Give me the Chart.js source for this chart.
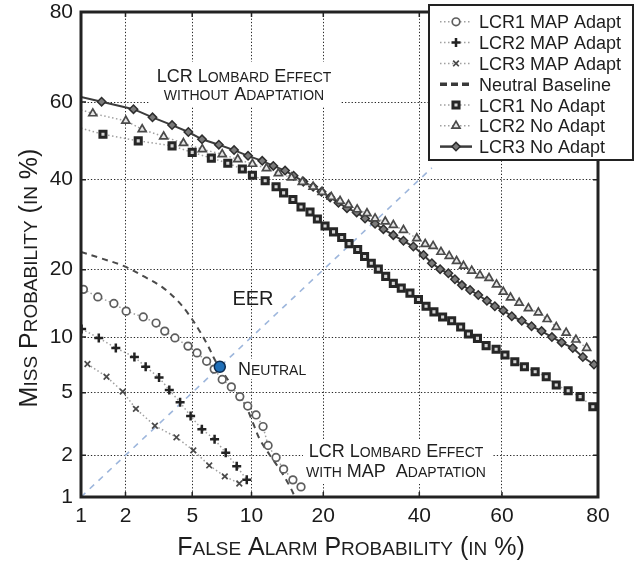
<!DOCTYPE html>
<html>
<head>
<meta charset="utf-8">
<script src="https://cdn.jsdelivr.net/npm/chart.js@4/dist/chart.umd.min.js"></script>
<style>
  html, body { margin: 0; padding: 0; background: #fff; }
</style>
</head>
<body>
<canvas id="det" width="635" height="562"></canvas>
<script>
const FONT = '"Liberation Sans", Arial, sans-serif';

// tick positions (in %)
const xTicks = [1, 2, 5, 10, 20, 40, 60, 80];
const yTicks = [1, 2, 5, 10, 20, 40, 60, 80];

// LCR1 / LCR2 / LCR3 with MAP adaptation
const lcr1MapX = [1.04, 1.31, 1.68, 2.02, 2.59, 3.1, 3.49, 4.0, 4.74, 5.31, 5.98, 6.55, 7.2, 8.0, 8.8, 9.6, 10.5, 11.3, 11.9, 12.9, 13.9, 15.2, 16.4];
const lcr1MapY = [16.6, 15.4, 14.4, 13.3, 12.5, 11.7, 10.7, 9.9, 9.0, 8.3, 7.5, 6.8, 5.95, 5.4, 4.74, 4.16, 3.67, 3.1, 2.33, 1.93, 1.6, 1.34, 1.19];

const lcr2MapX = [1.01, 1.33, 1.73, 2.28, 2.68, 3.23, 3.71, 4.28, 4.9, 5.64, 6.58, 7.5, 8.5, 9.5];
const lcr2MapY = [10.95, 9.9, 8.8, 7.9, 7.0, 6.1, 5.19, 4.38, 3.61, 2.98, 2.56, 2.08, 1.68, 1.34];

const lcr3MapX = [1.11, 1.5, 1.92, 2.33, 3.05, 4.08, 5.07, 6.17, 7.42, 8.75];
const lcr3MapY = [7.25, 6.17, 5.07, 4.0, 3.14, 2.64, 2.16, 1.7, 1.42, 1.26];

// neutral baseline (dashed curve)
const neutralX = [1, 1.36, 1.94, 2.65, 3.36, 4.11, 4.8, 5.45, 6.09, 6.62, 7.27, 8.06, 8.8, 9.5, 10.2, 10.95, 12.1, 13.6, 14.8, 15.5];
const neutralY = [23.4, 22.2, 20.7, 18.7, 17.0, 14.9, 12.8, 10.8, 9.0, 7.6, 6.5, 5.5, 4.8, 4.05, 3.22, 2.54, 2.01, 1.53, 1.19, 1.0];

// LCR1 / LCR2 / LCR3 without adaptation (first point = where the line enters the plot)
const lcr1NoX = [1, 1.42, 2.41, 3.85, 5.0, 6.33, 7.68, 9.05, 10.1, 11.55, 12.9, 13.9, 15.2, 16.4, 17.8, 19.0, 20.3, 21.8, 23.3, 24.7, 26.4, 27.8, 29.2, 30.7, 32.3, 34.0, 35.8, 37.8, 39.8, 41.6, 43.5, 45.6, 47.8, 50.0, 51.9, 54.1, 56.2, 58.6, 60.7, 63.0, 65.2, 67.6, 70.0, 72.1, 74.5, 76.8, 79.1];
const lcr1NoY = [53.3, 51.7, 50.0, 48.7, 47.0, 45.5, 44.2, 42.7, 41.1, 39.7, 38.2, 36.7, 35.1, 33.3, 32.1, 30.5, 28.9, 27.6, 26.4, 25.1, 23.9, 22.5, 21.2, 20.1, 18.8, 17.6, 16.8, 16.0, 15.0, 14.0, 13.2, 12.5, 12.0, 11.2, 10.35, 9.85, 9.05, 8.67, 8.1, 7.45, 7.0, 6.58, 6.17, 5.54, 5.13, 4.74, 4.12];

const lcr2NoX = [1, 1.21, 2.01, 2.55, 3.44, 4.47, 5.67, 7.2, 8.6, 10.1, 11.7, 13.2, 15.0, 16.6, 18.3, 19.8, 21.4, 23.0, 24.6, 26.3, 28.3, 30.0, 32.2, 34.0, 36.3, 39.4, 41.4, 43.3, 45.2, 47.2, 49.0, 50.7, 52.7, 54.7, 56.9, 58.7, 60.3, 62.0, 64.0, 66.1, 68.3, 70.2, 72.1, 74.1, 76.0, 78.0];
const lcr2NoY = [58.0, 57.1, 55.2, 53.0, 51.1, 49.4, 47.8, 46.5, 45.2, 44.0, 42.9, 41.6, 40.5, 39.4, 38.2, 36.9, 35.7, 34.7, 33.8, 32.7, 31.8, 30.6, 29.9, 29.1, 28.0, 26.2, 25.0, 24.6, 23.4, 22.6, 21.6, 20.7, 19.8, 19.0, 18.5, 17.4, 16.2, 15.3, 14.5, 13.7, 13.1, 12.2, 11.2, 10.5, 9.7, 8.8];

const lcr3NoX = [1, 1.39, 2.25, 2.95, 3.85, 4.76, 5.65, 6.92, 8.25, 9.63, 11.2, 12.55, 14.1, 15.3, 16.75, 18.3, 19.7, 21.2, 22.7, 24.3, 26.2, 27.9, 30.0, 31.8, 34.0, 36.3, 38.6, 41.0, 43.0, 45.0, 47.0, 48.6, 50.3, 52.3, 54.3, 56.4, 58.3, 60.3, 62.3, 64.6, 66.8, 69.0, 71.2, 73.2, 75.4, 77.3, 79.3];
const lcr3NoY = [61.3, 60.1, 58.2, 56.1, 54.1, 52.3, 50.4, 49.0, 47.6, 46.1, 44.8, 43.5, 42.3, 41.0, 39.5, 38.2, 37.0, 35.6, 34.3, 33.0, 32.0, 30.6, 29.4, 28.2, 26.9, 25.7, 24.5, 22.8, 21.2, 20.1, 19.35, 18.3, 17.3, 16.5, 15.7, 14.8, 14.0, 13.4, 12.6, 12.0, 11.3, 10.7, 10.0, 9.4, 8.8, 7.9, 7.2];

// equal error rate diagonal and the neutral operating point
const eerX = [1, 43];
const eerY = [1, 43];
const neutralPtX = [7.0];
const neutralPtY = [7.0];

// ---- normal deviate helpers ----
function probit(p) {
  const a = [-39.69683028665376, 220.9460984245205, -275.9285104469687, 138.3577518672690, -30.66479806614716, 2.506628277459239];
  const b = [-54.47609879822406, 161.5858368580409, -155.6989798598866, 66.80131188771972, -13.28068155288572];
  const c = [-0.007784894002430293, -0.3223964580411365, -2.400758277161838, -2.549671010519046, 4.374664141464968, 2.938163982698783];
  const d = [0.007784695709041462, 0.3224671290700398, 2.445134137142996, 3.754408661907416];
  const pl = 0.02425;
  if (p < pl) {
    const q = Math.sqrt(-2 * Math.log(p));
    return (((((c[0] * q + c[1]) * q + c[2]) * q + c[3]) * q + c[4]) * q + c[5]) / ((((d[0] * q + d[1]) * q + d[2]) * q + d[3]) * q + 1);
  }
  if (p > 1 - pl) {
    const q = Math.sqrt(-2 * Math.log(1 - p));
    return -(((((c[0] * q + c[1]) * q + c[2]) * q + c[3]) * q + c[4]) * q + c[5]) / ((((d[0] * q + d[1]) * q + d[2]) * q + d[3]) * q + 1);
  }
  const q = p - 0.5, r = q * q;
  return (((((a[0] * r + a[1]) * r + a[2]) * r + a[3]) * r + a[4]) * r + a[5]) * q / (((((b[0] * r + b[1]) * r + b[2]) * r + b[3]) * r + b[4]) * r + 1);
}
function normCdf(z) {
  let lo = 1e-6, hi = 1 - 1e-6;
  for (let i = 0; i < 60; i++) {
    const mid = (lo + hi) / 2;
    if (probit(mid) < z) lo = mid; else hi = mid;
  }
  return (lo + hi) / 2;
}

// DET (normal deviate) scale, values in %
class ProbitScale extends Chart.Scale {
  determineDataLimits() {
    this.min = this.options.min;
    this.max = this.options.max;
  }
  buildTicks() {
    const vals = this.axis === 'x' ? xTicks : yTicks;
    return vals.map(v => ({ value: v }));
  }
  getLabelForValue(v) { return String(v); }
  configure() {
    super.configure();
    this._zStart = probit(this.min / 100);
    this._zRange = probit(this.max / 100) - this._zStart;
  }
  getPixelForValue(v) {
    return this.getPixelForDecimal((probit(v / 100) - this._zStart) / this._zRange);
  }
  getValueForPixel(px) {
    return 100 * normCdf(this.getDecimalForPixel(px) * this._zRange + this._zStart);
  }
}
ProbitScale.id = 'probit';
ProbitScale.defaults = {};
Chart.register(ProbitScale);

function pts(xs, ys) { return xs.map((x, i) => ({ x: x, y: ys[i] })); }
const dotted = [1.5, 2.5];
const hideFirst = r => ctx => (ctx.dataIndex === 0 ? 0 : r);

// small caps text: lowercase letters drawn as smaller capitals
function smallCaps(ctx, text, x, y, size, align) {
  const small = Math.round(size * 0.76);
  const parts = [];
  for (const ch of text) {
    const s = ch !== ch.toUpperCase() ? small : size;
    const last = parts[parts.length - 1];
    if (last && last.s === s) last.t += ch.toUpperCase();
    else parts.push({ t: ch.toUpperCase(), s: s });
  }
  let total = 0;
  parts.forEach(p => { ctx.font = p.s + 'px ' + FONT; p.w = ctx.measureText(p.t).width; total += p.w; });
  let cx = align === 'center' ? x - total / 2 : x;
  ctx.textAlign = 'left';
  ctx.textBaseline = 'alphabetic';
  parts.forEach(p => { ctx.font = p.s + 'px ' + FONT; ctx.fillText(p.t, cx, y); cx += p.w; });
}

const textPlugin = {
  id: 'detText',
  beforeDatasetsDraw(chart) {
    const ctx = chart.ctx;
    ctx.save();
    ctx.fillStyle = '#fff';
    ctx.fillRect(150, 62, 190, 44);
    ctx.fillRect(303, 441, 190, 43);
    ctx.fillRect(236, 359, 72, 20);
    ctx.fillStyle = '#1e1e1e';
    smallCaps(ctx, 'LCR Lombard Effect', 244, 82, 18, 'center');
    smallCaps(ctx, 'without Adaptation', 244, 100, 18, 'center');
    smallCaps(ctx, 'LCR Lombard Effect', 396, 457, 18, 'center');
    smallCaps(ctx, 'with MAP  Adaptation', 396, 477, 18, 'center');
    smallCaps(ctx, 'Neutral', 238, 375, 18, 'left');
    ctx.font = '20px ' + FONT;
    ctx.textAlign = 'center';
    ctx.fillText('EER', 253, 305);
    ctx.restore();
  },
  afterDatasetsDraw(chart) {
    const ctx = chart.ctx;
    const a = chart.chartArea;
    const xs = chart.scales.x, ys = chart.scales.y;
    ctx.save();
    ctx.strokeStyle = '#222';
    ctx.lineWidth = 1.5;
    ctx.beginPath();
    xTicks.forEach(v => {
      const px = xs.getPixelForValue(v);
      ctx.moveTo(px, a.top); ctx.lineTo(px, a.top + 5);
      ctx.moveTo(px, a.bottom); ctx.lineTo(px, a.bottom - 5);
    });
    yTicks.forEach(v => {
      const py = ys.getPixelForValue(v);
      ctx.moveTo(a.left, py); ctx.lineTo(a.left + 5, py);
      ctx.moveTo(a.right, py); ctx.lineTo(a.right - 5, py);
    });
    ctx.stroke();
    ctx.lineWidth = 3;
    ctx.strokeRect(a.left, a.top, a.right - a.left, a.bottom - a.top);
    ctx.restore();
  },
  afterDraw(chart) {
    const ctx = chart.ctx;
    ctx.save();
    ctx.fillStyle = '#1e1e1e';
    smallCaps(ctx, 'False Alarm Probability (in %)', 351, 555, 25, 'center');
    ctx.translate(37, 278);
    ctx.rotate(-Math.PI / 2);
    smallCaps(ctx, 'Miss Probability (in %)', 0, 0, 25, 'center');
    ctx.restore();

    // legend box
    ctx.save();
    ctx.fillStyle = '#fff';
    ctx.fillRect(429, 5, 204, 155);
    ctx.lineWidth = 2;
    ctx.strokeStyle = '#222';
    ctx.strokeRect(429, 5, 204, 155);
    let row = 0;
    chart.data.datasets.forEach(ds => {
      if (!ds.inLegend) return;
      const y = 21.8 + row * 20.8;
      ctx.save();
      ctx.strokeStyle = ds.legendColor || ds.borderColor;
      ctx.lineWidth = ds.legendWidth || ds.borderWidth;
      ctx.setLineDash(ds.legendDash || ds.borderDash || []);
      ctx.beginPath();
      ctx.moveTo(440, y);
      ctx.lineTo(472, y);
      ctx.stroke();
      ctx.restore();
      if (ds.markerSize) {
        ctx.save();
        ctx.fillStyle = ds.pointBackgroundColor;
        ctx.strokeStyle = ds.pointBorderColor;
        ctx.lineWidth = ds.pointBorderWidth;
        Chart.helpers.drawPoint(ctx, { pointStyle: ds.pointStyle, radius: ds.markerSize, borderWidth: ds.pointBorderWidth, rotation: 0 }, 456, y);
        ctx.restore();
      }
      ctx.fillStyle = '#1e1e1e';
      ctx.font = '18px ' + FONT;
      ctx.textAlign = 'left';
      ctx.textBaseline = 'alphabetic';
      ctx.fillText(ds.label, 479, y + 6.5);
      row++;
    });
    ctx.restore();
  }
};

const datasets = [
  {
    label: 'Neutral', data: pts(neutralPtX, neutralPtY), showLine: false,
    pointStyle: 'circle', pointRadius: 5.5, pointBackgroundColor: '#1f6fb8', pointBorderColor: '#0c2c50', pointBorderWidth: 1.5
  },
  {
    label: 'LCR1 MAP Adapt', inLegend: true, data: pts(lcr1MapX, lcr1MapY), showLine: true,
    borderColor: '#a0a0a0', borderWidth: 1.5, borderDash: dotted,
    pointStyle: 'circle', pointRadius: 3.8, markerSize: 3.8, pointBackgroundColor: '#fff', pointBorderColor: '#5e5e5e', pointBorderWidth: 1.7
  },
  {
    label: 'LCR2 MAP Adapt', inLegend: true, data: pts(lcr2MapX, lcr2MapY), showLine: true,
    borderColor: '#a0a0a0', borderWidth: 1.5, borderDash: dotted,
    pointStyle: 'cross', pointRadius: 4.5, markerSize: 4.5, pointBackgroundColor: '#222', pointBorderColor: '#222', pointBorderWidth: 2.5
  },
  {
    label: 'LCR3 MAP Adapt', inLegend: true, data: pts(lcr3MapX, lcr3MapY), showLine: true,
    borderColor: '#a0a0a0', borderWidth: 1.5, borderDash: dotted,
    pointStyle: 'crossRot', pointRadius: 4, markerSize: 4, pointBackgroundColor: '#4a4a4a', pointBorderColor: '#4a4a4a', pointBorderWidth: 1.7
  },
  {
    label: 'Neutral Baseline', inLegend: true, data: pts(neutralX, neutralY), showLine: true, tension: 0.35,
    borderColor: '#4a4a4a', borderWidth: 2, borderDash: [6, 5], pointRadius: 0,
    legendColor: '#3a3a3a', legendWidth: 3.5, legendDash: [7, 4]
  },
  {
    label: 'LCR1 No Adapt', inLegend: true, data: pts(lcr1NoX, lcr1NoY), showLine: true,
    borderColor: '#a0a0a0', borderWidth: 1.5, borderDash: dotted,
    pointStyle: 'rect', pointRadius: hideFirst(4.3), markerSize: 4.3, pointBackgroundColor: '#d4d4d4', pointBorderColor: '#262626', pointBorderWidth: 3
  },
  {
    label: 'LCR2 No Adapt', inLegend: true, data: pts(lcr2NoX, lcr2NoY), showLine: true,
    borderColor: '#a0a0a0', borderWidth: 1.5, borderDash: dotted,
    pointStyle: 'triangle', pointRadius: hideFirst(4.6), markerSize: 4.6, pointBackgroundColor: '#e6e6e6', pointBorderColor: '#4a4a4a', pointBorderWidth: 1.7
  },
  {
    label: 'LCR3 No Adapt', inLegend: true, data: pts(lcr3NoX, lcr3NoY), showLine: true,
    borderColor: '#3c3c3c', borderWidth: 2,
    pointStyle: 'rectRot', pointRadius: hideFirst(4.2), markerSize: 4.2, pointBackgroundColor: '#7a7a7a', pointBorderColor: '#2e2e2e', pointBorderWidth: 1.5,
    legendWidth: 2.5
  },
  {
    label: 'EER', data: pts(eerX, eerY), showLine: true,
    borderColor: '#9db6dc', borderWidth: 1.6, borderDash: [6, 6], pointRadius: 0
  }
];

const axisCommon = {
  type: 'probit',
  min: 1,
  max: 80,
  grid: { color: '#262626', lineWidth: 1, drawTicks: false },
  border: { display: false, dash: [1.3, 2] },
  ticks: {
    color: '#1a1a1a',
    font: { size: 21, family: FONT },
    autoSkip: false,
    maxRotation: 0,
    callback: v => String(v)
  }
};

new Chart(document.getElementById('det'), {
  type: 'scatter',
  data: { datasets: datasets },
  options: {
    responsive: false,
    animation: false,
    events: [],
    layout: { padding: { left: 0, right: 37, top: 12, bottom: 0 } },
    plugins: { legend: { display: false }, tooltip: { enabled: false } },
    scales: {
      x: Object.assign({}, axisCommon, {
        position: 'bottom',
        ticks: Object.assign({}, axisCommon.ticks, { padding: 7 }),
        afterFit: s => { s.height = 65; s.paddingLeft = 0; s.paddingRight = 0; }
      }),
      y: Object.assign({}, axisCommon, {
        position: 'left',
        ticks: Object.assign({}, axisCommon.ticks, { padding: 8 }),
        afterFit: s => { s.width = 81; s.paddingTop = 0; s.paddingBottom = 0; }
      })
    }
  },
  plugins: [textPlugin]
});
</script>
</body>
</html>
